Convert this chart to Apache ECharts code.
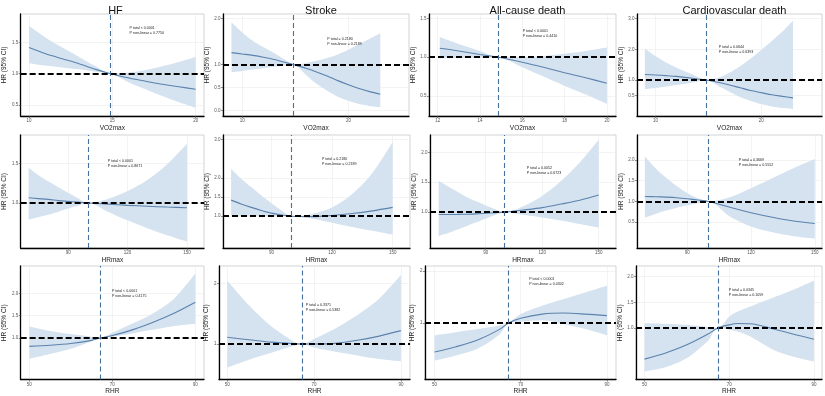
<!DOCTYPE html>
<html><head><meta charset="utf-8">
<script src="https://cdn.jsdelivr.net/npm/echarts@6/dist/echarts.min.js"></script>
<style>html,body{margin:0;padding:0;background:#fff}#c{width:825px;height:396px}</style>
</head><body><div id="c"></div>
<script>
// ---- text ----
const colTitles = ["HF", "Stroke", "All-cause death", "Cardiovascular death"];
const rowXNames = ["VO2max", "HRmax", "RHR"];
const yName = "HR (95% CI)";

// ---- panel data (x, estimate, lower CI, upper CI) ----
// Row 1: VO2max
const x1 = [10, 11, 12, 13, 14, 14.9, 16, 17, 18, 19, 20];
const est1 = [1.42, 1.32, 1.24, 1.16, 1.07, 1.0, 0.93, 0.88, 0.83, 0.79, 0.75];
const lo1 = [1.17, 1.13, 1.10, 1.07, 1.03, 1.0, 0.86, 0.75, 0.64, 0.54, 0.45];
const hi1 = [1.77, 1.58, 1.42, 1.27, 1.12, 1.0, 1.02, 1.06, 1.12, 1.19, 1.27];

const x2 = [9, 10, 11, 12, 13, 14, 14.8, 16, 17, 18, 19, 20, 21, 22, 23];
const est2 = [1.26, 1.23, 1.20, 1.16, 1.11, 1.05, 1.0, 0.92, 0.84, 0.75, 0.65, 0.56, 0.48, 0.41, 0.355];
const lo2 = [0.83, 0.86, 0.89, 0.92, 0.95, 0.98, 1.0, 0.78, 0.58, 0.43, 0.30, 0.21, 0.14, 0.10, 0.07];
const hi2 = [1.92, 1.70, 1.52, 1.38, 1.25, 1.11, 1.0, 1.03, 1.08, 1.14, 1.22, 1.32, 1.44, 1.56, 1.68];

const x3 = [12.1, 13, 14, 14.87, 16, 17, 18, 19, 20];
const est3 = [1.115, 1.08, 1.035, 1.0, 0.935, 0.87, 0.80, 0.735, 0.665];
const lo3 = [0.985, 0.99, 0.995, 1.0, 0.87, 0.75, 0.63, 0.52, 0.40];
const hi3 = [1.26, 1.17, 1.08, 1.0, 1.0, 1.015, 1.045, 1.08, 1.125];

const x4 = [9, 10, 11, 12, 13, 14, 14.8, 16, 17, 18, 19, 20, 21, 22, 23];
const est4 = [1.18, 1.165, 1.145, 1.12, 1.08, 1.035, 1.0, 0.92, 0.84, 0.75, 0.66, 0.59, 0.52, 0.47, 0.42];
const lo4 = [0.70, 0.74, 0.79, 0.84, 0.89, 0.95, 1.0, 0.80, 0.62, 0.45, 0.32, 0.22, 0.14, 0.09, 0.06];
const hi4 = [2.03, 1.78, 1.57, 1.40, 1.25, 1.10, 1.0, 1.08, 1.24, 1.45, 1.70, 1.98, 2.27, 2.58, 2.93];

// Row 2: HRmax
const x5 = [70, 75, 80, 85, 90, 95, 100, 110, 120, 130, 140, 150];
const est5 = [1.065, 1.055, 1.045, 1.03, 1.02, 1.01, 1.0, 0.985, 0.97, 0.958, 0.948, 0.94];
const lo5 = [0.79, 0.82, 0.85, 0.89, 0.93, 0.965, 1.0, 0.89, 0.78, 0.68, 0.59, 0.51];
const hi5 = [1.445, 1.35, 1.27, 1.20, 1.13, 1.06, 1.0, 1.05, 1.15, 1.29, 1.49, 1.75];

const x6 = [70, 75, 80, 85, 90, 95, 100, 110, 120, 130, 140, 150];
const est6 = [1.42, 1.32, 1.23, 1.15, 1.08, 1.03, 1.0, 0.99, 1.02, 1.07, 1.14, 1.23];
const lo6 = [1.02, 1.015, 1.01, 1.005, 1.0, 1.0, 1.0, 0.94, 0.83, 0.72, 0.62, 0.52];
const hi6 = [2.24, 1.98, 1.76, 1.54, 1.34, 1.15, 1.0, 1.06, 1.23, 1.58, 2.13, 2.94];

const x7 = [65, 70, 75, 80, 85, 90, 95, 100, 110, 120, 130, 140, 150];
const est7 = [0.96, 0.96, 0.962, 0.965, 0.97, 0.98, 0.99, 1.0, 1.035, 1.075, 1.135, 1.2, 1.285];
const lo7 = [0.60, 0.65, 0.71, 0.77, 0.83, 0.89, 0.95, 1.0, 0.955, 0.91, 0.86, 0.80, 0.74];
const hi7 = [1.525, 1.43, 1.34, 1.25, 1.18, 1.11, 1.05, 1.0, 1.10, 1.27, 1.52, 1.83, 2.21];

const x8 = [70, 75, 80, 85, 90, 95, 100, 110, 120, 130, 140, 150];
const est8 = [1.12, 1.115, 1.105, 1.09, 1.065, 1.035, 1.0, 0.86, 0.73, 0.62, 0.53, 0.47];
const lo8 = [0.61, 0.70, 0.78, 0.85, 0.91, 0.96, 1.0, 0.64, 0.40, 0.26, 0.165, 0.105];
const hi8 = [2.08, 1.80, 1.57, 1.37, 1.20, 1.08, 1.0, 1.10, 1.32, 1.56, 1.80, 2.02];

// Row 3: RHR
const x9 = [50, 55, 60, 65, 67, 70, 75, 80, 85, 90];
const est9 = [0.815, 0.84, 0.88, 0.95, 1.0, 1.06, 1.19, 1.36, 1.56, 1.8];
const lo9 = [0.54, 0.645, 0.76, 0.93, 1.0, 1.03, 1.11, 1.19, 1.27, 1.32];
const hi9 = [1.26, 1.16, 1.09, 1.03, 1.0, 1.12, 1.33, 1.56, 1.89, 2.44];

const x10 = [50, 55, 60, 65, 67.3, 70, 75, 80, 85, 90];
const est10 = [1.11, 1.07, 1.03, 1.005, 1.0, 1.0, 1.01, 1.06, 1.13, 1.22];
const lo10 = [0.61, 0.74, 0.85, 0.96, 1.0, 0.94, 0.87, 0.81, 0.75, 0.71];
const hi10 = [2.05, 1.64, 1.30, 1.055, 1.0, 1.08, 1.26, 1.48, 1.75, 2.14];

const x11 = [50, 55, 60, 65, 67.2, 70, 75, 80, 85, 90];
const est11 = [0.436, 0.54, 0.67, 0.87, 1.0, 1.09, 1.17, 1.19, 1.17, 1.14];
const lo11 = [0.27, 0.37, 0.50, 0.77, 1.0, 1.02, 1.05, 0.98, 0.88, 0.76];
const hi11 = [0.76, 0.82, 0.88, 0.95, 1.0, 1.17, 1.33, 1.46, 1.59, 1.72];

const x12 = [50, 55, 60, 65, 67.3, 70, 72, 75, 80, 85, 90];
const est12 = [0.39, 0.51, 0.67, 0.88, 1.0, 1.06, 1.085, 1.08, 0.99, 0.88, 0.78];
const lo12 = [0.15, 0.23, 0.41, 0.75, 1.0, 0.97, 0.93, 0.83, 0.59, 0.44, 0.34];
const hi12 = [1.09, 1.08, 1.06, 1.02, 1.0, 1.22, 1.32, 1.42, 1.58, 1.74, 1.92];

// reference values (vertical dashed lines) and HR reference
const refX = [14.9, 14.8, 14.87, 14.8, 100, 100, 100, 100, 67, 67.3, 67.2, 67.3];
const refHR = 1;

// axis ranges
const xMin = [9.5, 8.2, 11.59, 8.26, 66.0, 66.0, 60.4, 66.3, 47.9, 48.1, 47.8, 48.0];
const xMax = [20.5, 25.7, 20.43, 25.74, 158.6, 158.6, 159.2, 153.4, 92.1, 92.1, 92.1, 91.9];
const yMin = [0.32, -0.12, 0.243, -0.17, 0.43, 0.17, 0.40, -0.12, 0.074, 0.41, -0.096, -0.01];
const yMax = [1.96, 2.10, 1.556, 3.15, 1.86, 3.12, 2.29, 2.6, 2.61, 2.29, 2.10, 2.21];

// tick values / labels
const xTicks = [[10, 15, 20], [10, 20], [12, 14, 16, 18, 20], [10, 20],
  [90, 120, 150], [90, 120, 150], [90, 120, 150], [90, 120, 150],
  [50, 70, 90], [50, 70, 90], [50, 70, 90], [50, 70, 90]];
const yTicks = [[0.5, 1.0, 1.5], [0.0, 0.5, 1.0, 2.0], [0.5, 1.0, 1.5], [0.5, 1.0, 2.0, 3.0],
  [1.0, 1.5], [1.0, 1.5, 2.0, 3.0], [1.0, 1.5, 2.0], [0.5, 1.0, 1.5, 2.0],
  [1.0, 1.5, 2.0], [1, 2], [1, 2], [1.0, 1.5, 2.0]];
const yTickLabels = [["0.5", "1.0", "1.5"], ["0.0", "0.5", "1.0", "2.0"], ["0.5", "1.0", "1.5"], ["0.5", "1.0", "2.0", "3.0"],
  ["1.0", "1.5"], ["1.0", "1.5", "2.0", "3.0"], ["1.0", "1.5", "2.0"], ["0.5", "1.0", "1.5", "2.0"],
  ["1.0", "1.5", "2.0"], ["1", "2"], ["1", "2"], ["1.0", "1.5", "2.0"]];

// p-value annotations and their anchor (data coords)
const pTotal = ["P total < 0.0001", "P total = 0.2180", "P total < 0.0001", "P total = 0.0644",
  "P total < 0.0001", "P total = 0.2180", "P total = 0.0052", "P total = 0.3669",
  "P total < 0.0001", "P total = 0.3371", "P total < 0.0001", "P total = 0.0345"];
const pNonLin = ["P non-linear = 0.7750", "P non-linear = 0.2189", "P non-linear = 0.4410", "P non-linear = 0.6393",
  "P non-linear = 0.8671", "P non-linear = 0.2189", "P non-linear = 0.6723", "P non-linear = 0.5552",
  "P non-linear = 0.4175", "P non-linear = 0.5382", "P non-linear = 0.0302", "P non-linear = 0.1059"];
const annX = [16.03, 18.02, 16.02, 15.99, 110, 115, 111.8, 114.2, 69.9, 68.1, 71.96, 69.9];
const annY = [1.70, 1.51, 1.31, 2.0, 1.5, 2.42, 1.70, 1.94, 1.99, 1.60, 1.81, 1.70];

// ---- layout (pixels) ----
const L = {
  lefts: [17, 223, 429, 637, 17, 223, 430, 637, 17, 219, 425, 636],
  rights: [204, 409, 616, 822, 204, 410, 616, 822, 204, 410, 616, 822],
  tops: [14, 135, 266],
  bottoms: [116, 248, 380],
  yNameGap: [9.5, 9.5, 9.5, 9.5, 9.5, 9.5, 9.5, 9.5, 9.5, 5.5, 5.5, 9.5]
};

const X = [x1, x2, x3, x4, x5, x6, x7, x8, x9, x10, x11, x12];
const E = [est1, est2, est3, est4, est5, est6, est7, est8, est9, est10, est11, est12];
const LO = [lo1, lo2, lo3, lo4, lo5, lo6, lo7, lo8, lo9, lo10, lo11, lo12];
const HI = [hi1, hi2, hi3, hi4, hi5, hi6, hi7, hi8, hi9, hi10, hi11, hi12];

const FONT = "Liberation Sans, Arial, sans-serif";
const LINE_COLOR = "#5b83ad";
const BAND_COLOR = "#d5e2ef";
const REF_COLOR = "#46709b";
const SMOOTH = 0.3;

const grids = [], xAxes = [], yAxes = [], series = [], titles = [];
for (let i = 0; i < 12; i++) {
  const r = Math.floor(i / 4);
  const top = L.tops[r], bottom = L.bottoms[r];
  grids.push({ left: L.lefts[i], top: top, width: L.rights[i] - L.lefts[i], height: bottom - top,
    show: true, borderColor: "#c8c8c8", borderWidth: 0.8, containLabel: false });
  xAxes.push({
    type: "value", gridIndex: i, min: xMin[i], max: xMax[i],
    name: rowXNames[r], nameLocation: "middle", nameGap: 6.5,
    nameTextStyle: { fontSize: 6.5, color: "#222", fontFamily: FONT },
    axisLine: { show: true, onZero: false, lineStyle: { color: "#000", width: 1.3 } },
    axisTick: { show: true, length: 2, customValues: xTicks[i], lineStyle: { color: "#444", width: 0.6 } },
    axisLabel: { customValues: xTicks[i], fontSize: 4.5, color: "#555", margin: 2.5, fontFamily: FONT,
      formatter: v => String(v) },
    splitLine: { show: true, lineStyle: { color: "#ebebeb", width: 0.6 } }
  });
  yAxes.push({
    type: "value", gridIndex: i, min: yMin[i], max: yMax[i],
    name: yName, nameLocation: "middle", nameGap: L.yNameGap[i], nameRotate: 90,
    nameTextStyle: { fontSize: 6.5, color: "#222", fontFamily: FONT },
    axisLine: { show: true, onZero: false, lineStyle: { color: "#000", width: 1.3 } },
    axisTick: { show: true, length: 2, customValues: yTicks[i], lineStyle: { color: "#444", width: 0.6 } },
    axisLabel: { customValues: yTicks[i], fontSize: 4.5, color: "#555", margin: 2.5, fontFamily: FONT,
      formatter: v => { const k = yTicks[i].findIndex(t => Math.abs(t - v) < 1e-9); return k >= 0 ? yTickLabels[i][k] : ""; } },
    splitLine: { show: true, lineStyle: { color: "#ebebeb", width: 0.6 } }
  });
  const xs = X[i];
  // band: stacked on the y dimension (data given as [y, x] with encode so that y is dimension 0)
  series.push({
    type: "line", xAxisIndex: i, yAxisIndex: i, stack: "ci" + i, symbol: "none", smooth: SMOOTH,
    silent: true, lineStyle: { opacity: 0 }, encode: { x: 1, y: 0 },
    data: xs.map((v, j) => [LO[i][j], v])
  });
  series.push({
    type: "line", xAxisIndex: i, yAxisIndex: i, stack: "ci" + i, symbol: "none", smooth: SMOOTH,
    silent: true, lineStyle: { opacity: 0 }, areaStyle: { color: BAND_COLOR, opacity: 1 }, encode: { x: 1, y: 0 },
    data: xs.map((v, j) => [HI[i][j] - LO[i][j], v])
  });
  series.push({
    type: "line", xAxisIndex: i, yAxisIndex: i, symbol: "none", smooth: SMOOTH, silent: true,
    lineStyle: { color: LINE_COLOR, width: 1.1 }, z: 3,
    data: xs.map((v, j) => [v, E[i][j]]),
    markLine: {
      symbol: "none", silent: true, label: { show: false }, animation: false,
      data: [
        { yAxis: refHR, lineStyle: { color: "#000", type: [6, 3], width: 1.8 } },
        { xAxis: refX[i], lineStyle: { color: REF_COLOR, type: [5, 3], width: 1.1 } }
      ]
    },
    markPoint: {
      symbol: "circle", symbolSize: 0, silent: true, animation: false,
      data: [{ coord: [annX[i], annY[i]] }],
      label: { show: true, position: "right", distance: 0, color: "#222", fontSize: 3.6, lineHeight: 5,
        fontFamily: FONT, formatter: pTotal[i] + "\n" + pNonLin[i] }
    }
  });
}
for (let c = 0; c < 4; c++) {
  titles.push({ text: colTitles[c], left: (L.lefts[c] + L.rights[c]) / 2, top: 0, textAlign: "center",
    textStyle: { fontSize: 11, fontWeight: "normal", color: "#111", fontFamily: FONT } });
}

const chart = echarts.init(document.getElementById("c"), null, { renderer: "canvas" });
chart.setOption({
  animation: false, backgroundColor: "#fff",
  textStyle: { fontFamily: FONT },
  title: titles, grid: grids, xAxis: xAxes, yAxis: yAxes, series: series
});
</script>
</body></html>
